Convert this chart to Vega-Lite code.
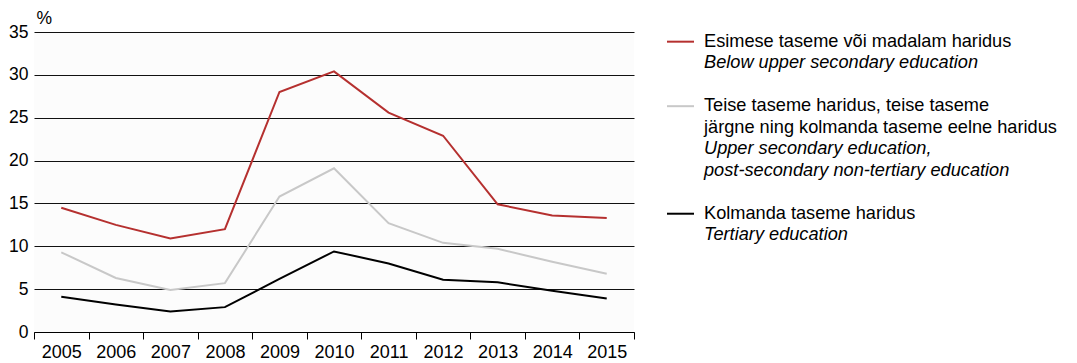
{
  "$schema": "https://vega.github.io/schema/vega-lite/v6.json",
  "background": "#ffffff",
  "padding": {"left": 8, "top": 9, "right": 0, "bottom": 0},
  "autosize": {"type": "pad"},
  "spacing": 31,
  "config": {
    "view": {"stroke": null},
    "font": "Liberation Sans",
    "axis": {"labelFont": "Liberation Sans", "titleFont": "Liberation Sans", "labelColor": "#000", "titleColor": "#000"}
  },
  "datasets": {
    "rates": [
      {"year": "2005", "series": "low", "value": 14.5},
      {"year": "2006", "series": "low", "value": 12.5},
      {"year": "2007", "series": "low", "value": 10.9},
      {"year": "2008", "series": "low", "value": 12.0},
      {"year": "2009", "series": "low", "value": 28.0},
      {"year": "2010", "series": "low", "value": 30.4},
      {"year": "2011", "series": "low", "value": 25.6},
      {"year": "2012", "series": "low", "value": 22.9},
      {"year": "2013", "series": "low", "value": 14.9},
      {"year": "2014", "series": "low", "value": 13.6},
      {"year": "2015", "series": "low", "value": 13.3},
      {"year": "2005", "series": "mid", "value": 9.3},
      {"year": "2006", "series": "mid", "value": 6.3},
      {"year": "2007", "series": "mid", "value": 4.9},
      {"year": "2008", "series": "mid", "value": 5.7},
      {"year": "2009", "series": "mid", "value": 15.8},
      {"year": "2010", "series": "mid", "value": 19.1},
      {"year": "2011", "series": "mid", "value": 12.7},
      {"year": "2012", "series": "mid", "value": 10.4},
      {"year": "2013", "series": "mid", "value": 9.7},
      {"year": "2014", "series": "mid", "value": 8.2},
      {"year": "2015", "series": "mid", "value": 6.8},
      {"year": "2005", "series": "high", "value": 4.1},
      {"year": "2006", "series": "high", "value": 3.2},
      {"year": "2007", "series": "high", "value": 2.4},
      {"year": "2008", "series": "high", "value": 2.9},
      {"year": "2009", "series": "high", "value": 6.2},
      {"year": "2010", "series": "high", "value": 9.4},
      {"year": "2011", "series": "high", "value": 8.0},
      {"year": "2012", "series": "high", "value": 6.1},
      {"year": "2013", "series": "high", "value": 5.8},
      {"year": "2014", "series": "high", "value": 4.8},
      {"year": "2015", "series": "high", "value": 3.9}
    ],
    "legendItems": [
      {"series": "low", "line": 0, "lang": "et", "first": true, "text": "Esimese taseme või madalam haridus"},
      {"series": "low", "line": 1, "lang": "en", "first": false, "text": "Below upper secondary education"},
      {"series": "mid", "line": 3, "lang": "et", "first": true, "text": "Teise taseme haridus, teise taseme"},
      {"series": "mid", "line": 4, "lang": "et", "first": false, "text": "järgne ning kolmanda taseme eelne haridus"},
      {"series": "mid", "line": 5, "lang": "en", "first": false, "text": "Upper secondary education,"},
      {"series": "mid", "line": 6, "lang": "en", "first": false, "text": "post-secondary non-tertiary education"},
      {"series": "high", "line": 8, "lang": "et", "first": true, "text": "Kolmanda taseme haridus"},
      {"series": "high", "line": 9, "lang": "en", "first": false, "text": "Tertiary education"}
    ]
  },
  "hconcat": [
    {
      "width": 600,
      "height": 300,
      "view": {"stroke": null, "fill": "#fcfcfc"},
      "data": {"name": "rates"},
      "mark": {"type": "line", "strokeWidth": 2},
      "encoding": {
        "x": {
          "field": "year", "type": "ordinal",
          "scale": {"paddingInner": 0, "paddingOuter": 0},
          "axis": {
            "title": null, "labelAngle": 0, "tickBand": "extent", "grid": false,
            "labelFontSize": 18, "labelPadding": 4, "tickSize": 7,
            "domainColor": "#000", "tickColor": "#000", "domainWidth": 1, "tickWidth": 1
          }
        },
        "y": {
          "field": "value", "type": "quantitative",
          "scale": {"domain": [0, 35], "nice": false},
          "axis": {
            "values": [0, 5, 10, 15, 20, 25, 30, 35],
            "title": "%", "titleAngle": 0, "titleAlign": "left", "titleBaseline": "alphabetic",
            "titleX": 2, "titleY": -9, "titleFontSize": 17.5, "titleFontWeight": "normal",
            "domain": false, "ticks": false, "grid": true, "gridColor": "#111", "gridWidth": 1,
            "labelFontSize": 17.5, "labelPadding": 6
          }
        },
        "color": {
          "field": "series", "type": "nominal",
          "scale": {"domain": ["low", "mid", "high"], "range": ["#b5302f", "#c8c8c8", "#000000"]},
          "legend": null
        }
      }
    },
    {
      "width": 410,
      "height": 300,
      "data": {"name": "legendItems"},
      "layer": [
        {
          "transform": [{"filter": "datum.first"}],
          "mark": {"type": "rule", "strokeWidth": 2},
          "encoding": {
            "x": {"datum": 0, "type": "quantitative", "scale": {"domain": [0, 410], "nice": false, "zero": false}, "axis": null},
            "x2": {"datum": 27},
            "y": {"field": "line", "type": "quantitative", "scale": {"domain": [-0.45, 13.5], "reverse": true, "nice": false, "zero": false}, "axis": null},
            "color": {
              "field": "series", "type": "nominal",
              "scale": {"domain": ["low", "mid", "high"], "range": ["#b5302f", "#c8c8c8", "#000000"]},
              "legend": null
            }
          }
        },
        {
          "transform": [{"filter": "datum.lang === 'et'"}],
          "mark": {"type": "text", "align": "left", "baseline": "middle", "fontSize": 18.2, "font": "Liberation Sans", "color": "#000"},
          "encoding": {
            "x": {"datum": 37, "type": "quantitative"},
            "y": {"field": "line", "type": "quantitative"},
            "text": {"field": "text"}
          }
        },
        {
          "transform": [{"filter": "datum.lang === 'en'"}],
          "mark": {"type": "text", "align": "left", "baseline": "middle", "fontSize": 18.2, "font": "Liberation Sans", "fontStyle": "italic", "color": "#000"},
          "encoding": {
            "x": {"datum": 37, "type": "quantitative"},
            "y": {"field": "line", "type": "quantitative"},
            "text": {"field": "text"}
          }
        }
      ]
    }
  ]
}
